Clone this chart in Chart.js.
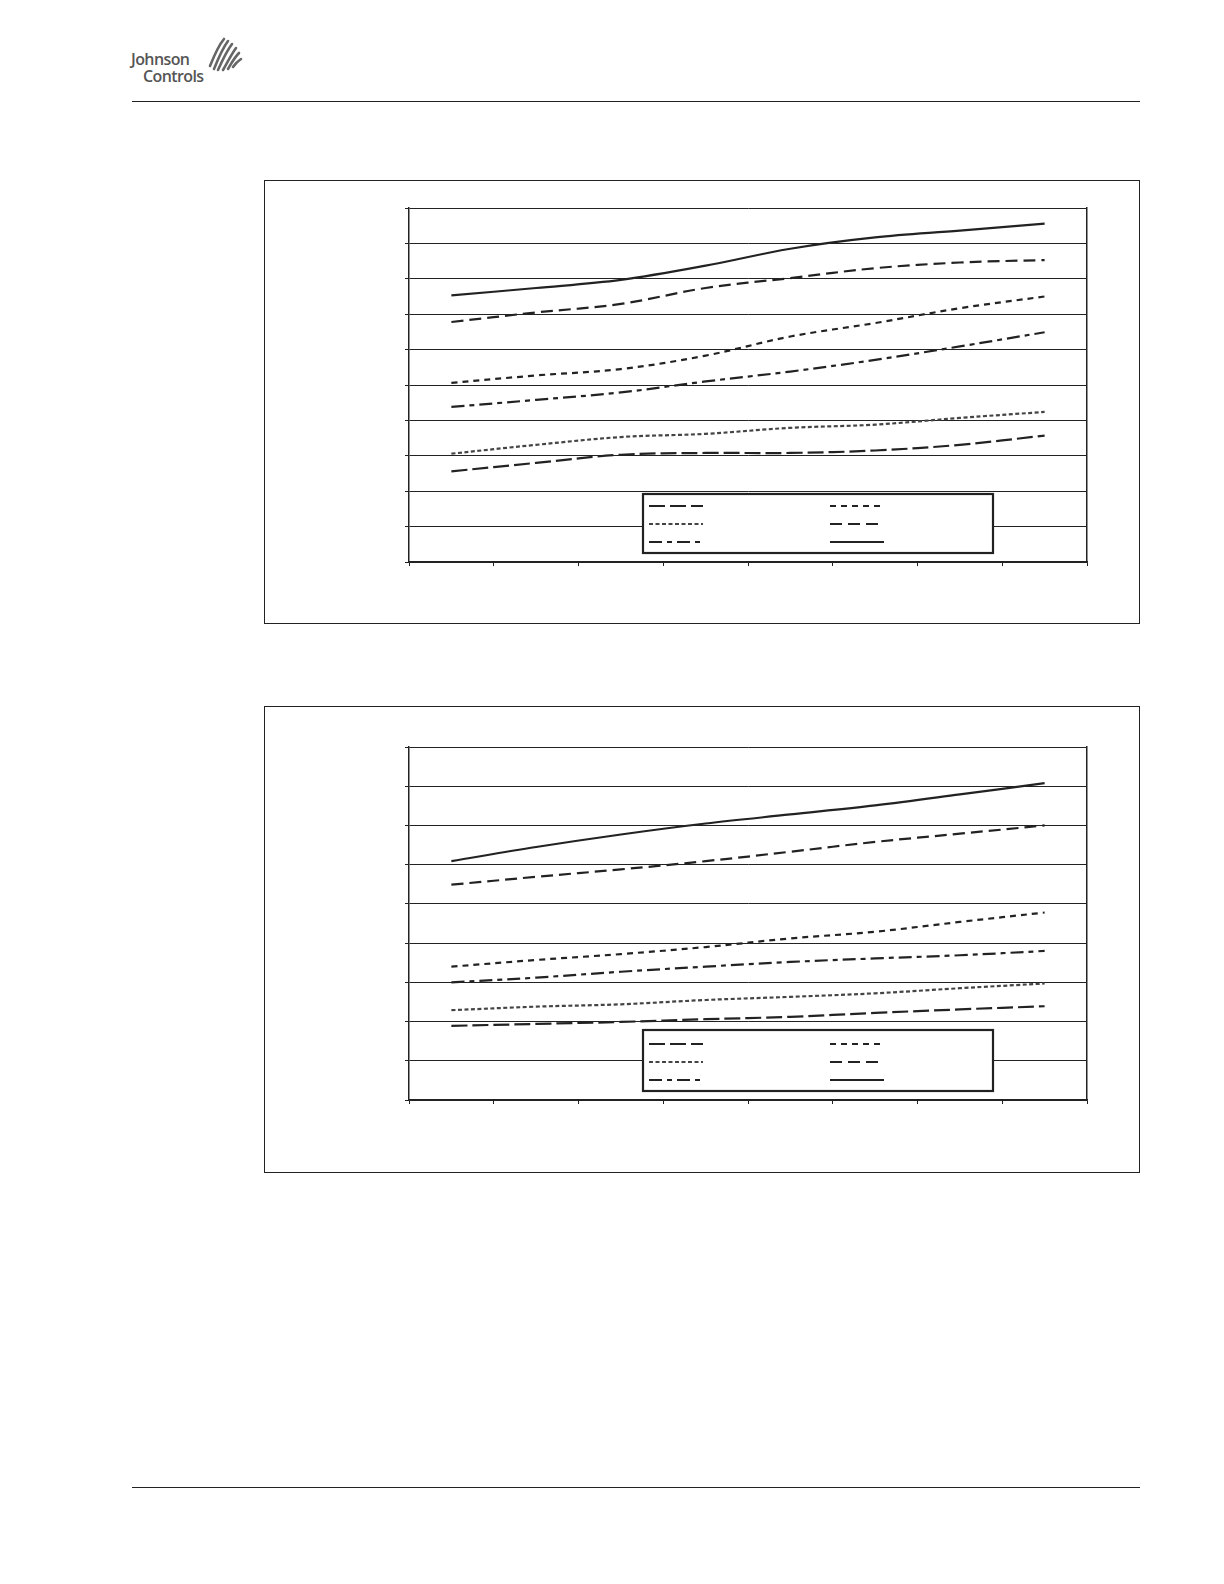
<!DOCTYPE html>
<html>
<head>
<meta charset="utf-8">
<script src="https://cdn.jsdelivr.net/npm/chart.js@4.4.1/dist/chart.umd.min.js"></script>
<style>
  body { margin: 0; background: #fff; width: 1224px; height: 1584px; position: relative; overflow: hidden; }
  .rule { position: absolute; left: 132px; width: 1008px; height: 0; border-top: 1.5px solid #222; }
  .frame { position: absolute; border: 1.5px solid #222; box-sizing: border-box; }
  .logo { position: absolute; left: 131px; top: 51px; font-family: "Open Sans", sans-serif; font-weight: 600;
          color: #555; font-size: 16px; line-height: 17px; letter-spacing: -0.6px; }
  canvas { position: absolute; }
</style>
</head>
<body>

<div class="logo">
  <div>Johnson</div>
  <div style="margin-left:12px">Controls</div>
</div>
<svg style="position:absolute;left:205px;top:36px" width="40" height="38" viewBox="0 0 40 38">
  <g fill="none" stroke="#666" stroke-width="2.6" stroke-linecap="round">
    <path d="M5 30 C9 20 13 10 19 3"/>
    <path d="M9 33 C13 23 17 13 23 5"/>
    <path d="M13 34 C17 25 21 16 27 8"/>
    <path d="M18 34 C22 27 26 19 31 12"/>
    <path d="M23 33 C26 28 29 22 34 17"/>
    <path d="M28 31 C30 28 33 25 36 23"/>
  </g>
</svg>
<div class="rule" style="top:101px"></div>

<div class="frame" style="left:264px;top:180px;width:876px;height:444px"></div>
<canvas id="chart1" width="740" height="390" style="left:370px;top:190px"></canvas>

<div class="frame" style="left:264px;top:706px;width:876px;height:467px"></div>
<canvas id="chart2" width="740" height="390" style="left:370px;top:730px"></canvas>

<div class="rule" style="top:1487px"></div>

<script>
const categories = ['1', '2', '3', '4', '5', '6', '7', '8'];

// chart 1 (values in gridline units, 0..10)
const c1LongDash  = [2.56, 2.80, 3.03, 3.08, 3.08, 3.15, 3.31, 3.57];
const c1ShortDash = [5.06, 5.27, 5.45, 5.83, 6.37, 6.75, 7.17, 7.50];
const c1DenseDot  = [3.06, 3.31, 3.53, 3.62, 3.79, 3.88, 4.07, 4.24];
const c1MedDash   = [6.78, 7.05, 7.29, 7.74, 8.02, 8.30, 8.46, 8.53];
const c1DashDot   = [4.38, 4.58, 4.79, 5.10, 5.38, 5.71, 6.09, 6.49];
const c1Solid     = [7.53, 7.74, 7.97, 8.37, 8.85, 9.17, 9.36, 9.56];

// chart 2 (values in gridline units, 0..9)
const c2LongDash  = [1.89, 1.94, 1.99, 2.06, 2.12, 2.22, 2.31, 2.39];
const c2ShortDash = [3.40, 3.57, 3.72, 3.90, 4.12, 4.29, 4.54, 4.78];
const c2DenseDot  = [2.29, 2.38, 2.44, 2.55, 2.63, 2.72, 2.85, 2.97];
const c2MedDash   = [5.49, 5.69, 5.88, 6.09, 6.33, 6.58, 6.79, 7.00];
const c2DashDot   = [3.00, 3.12, 3.27, 3.40, 3.52, 3.61, 3.69, 3.80];
const c2Solid     = [6.09, 6.45, 6.77, 7.05, 7.28, 7.51, 7.79, 8.08];

// line looks, in legend order
const looks = [
  { dash: [16, 5], color: '#222' },
  { dash: [6, 5], color: '#222' },
  { dash: [4, 2.5], color: '#444' },
  { dash: [12, 6], color: '#222' },
  { dash: [13, 5, 5, 5], color: '#222' },
  { dash: [], color: '#222' }
];

// boxed legend drawn inside the plot area (no labels in the original)
const boxLegend = {
  id: 'boxLegend',
  afterDatasetsDraw(chart, args, opts) {
    const { ctx, chartArea: a } = chart;
    const x = a.left + opts.left, y = a.bottom - opts.bottom;
    ctx.save();
    ctx.fillStyle = '#fff';
    ctx.fillRect(x, y, opts.width, opts.height);
    ctx.lineWidth = 2.2;
    ctx.strokeStyle = '#222';
    ctx.strokeRect(x, y, opts.width, opts.height);
    chart.data.datasets.forEach((ds, i) => {
      const lx = x + 6 + (i % 2) * 181;
      const ly = y + opts.rowTop + Math.floor(i / 2) * opts.rowGap;
      ctx.setLineDash(ds.borderDash);
      ctx.lineWidth = ds.borderWidth;
      ctx.strokeStyle = ds.borderColor;
      ctx.beginPath();
      ctx.moveTo(lx, ly);
      ctx.lineTo(lx + 54, ly);
      ctx.stroke();
    });
    ctx.restore();
  }
};

function makeChart(id, series, yMax, tension, legendOpts, pad) {
  const datasets = series.map((vals, i) => ({
    data: vals,
    borderColor: looks[i].color,
    borderDash: looks[i].dash,
    borderWidth: 2.2,
    pointRadius: 0,
    tension: tension,
    fill: false
  }));
  return new Chart(document.getElementById(id), {
    type: 'line',
    data: { labels: categories, datasets },
    plugins: [boxLegend],
    options: {
      responsive: false,
      animation: false,
      layout: { padding: pad },
      plugins: {
        legend: { display: false },
        tooltip: { enabled: false },
        boxLegend: legendOpts
      },
      scales: {
        x: {
          type: 'category',
          offset: true,
          grid: { offset: true, drawOnChartArea: false, tickLength: 4, color: '#222', lineWidth: 1 },
          border: { color: '#222', width: 1.5 },
          ticks: { display: false }
        },
        y: {
          min: 0,
          max: yMax,
          ticks: { display: false, stepSize: 1 },
          grid: { color: '#222', lineWidth: 1, tickLength: 4 },
          border: { color: '#222', width: 1.5 }
        },
        yr: {
          position: 'right',
          min: 0,
          max: 1,
          ticks: { display: false },
          grid: { drawOnChartArea: false, drawTicks: false },
          border: { color: '#222', width: 1.5 }
        }
      }
    }
  });
}

makeChart('chart1',
  [c1LongDash, c1ShortDash, c1DenseDot, c1MedDash, c1DashDot, c1Solid],
  10, 0.35,
  { left: 234, bottom: 68, width: 350, height: 59, rowTop: 12, rowGap: 18 },
  { left: 35, right: 23, top: 18, bottom: 14 });

makeChart('chart2',
  [c2LongDash, c2ShortDash, c2DenseDot, c2MedDash, c2DashDot, c2Solid],
  9, 0.35,
  { left: 234, bottom: 70, width: 350, height: 61, rowTop: 14, rowGap: 18 },
  { left: 35, right: 23, top: 17, bottom: 16 });
</script>
</body>
</html>
